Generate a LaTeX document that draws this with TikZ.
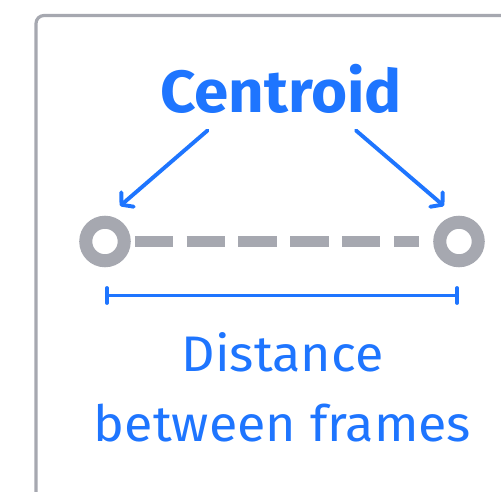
\documentclass[tikz,border=0pt]{standalone}
\usepackage{fontspec}
\setmainfont{Fira Sans}
\usetikzlibrary{arrows.meta}
\definecolor{accent}{RGB}{30,117,255}
\definecolor{frame}{RGB}{166,168,176}
\newcommand{\widen}[1]{\scalebox{1.04}[1]{#1}}
\tikzset{
  ring/.style={circle, draw=frame, fill=white, line width=13pt, inner sep=0pt, minimum size=38.5pt},
  link/.style={draw=frame, line width=11.8pt, dash pattern=on 38.4pt off 13.4pt},
  pointer/.style={draw=accent, line width=3.9pt, line cap=round,
    -{Straight Barb[length=8pt, width=19pt, line join=round, line cap=round]}},
  span/.style={draw=accent, line width=3.8pt, {Bar[width=15pt, line cap=round]}-{Bar[width=15pt, line cap=round]}},
  title/.style={text=accent, font=\fontsize{59.5}{60}\selectfont\bfseries, anchor=base, inner sep=0pt},
  caption/.style={text=accent, font=\fontsize{50}{52}\selectfont, anchor=base, inner sep=0pt}
}
\begin{document}
\begin{tikzpicture}[x=1pt, y=-1pt]
  \useasboundingbox (0,0) rectangle (501,492);
  \clip (0,0) rectangle (501,492);
  % panel outline, continuing past the right and bottom edges
  \draw[frame, line width=3.2pt, rounded corners=8pt] (36,540) -- (36,15.5) -- (540,15.5);

  \node[title] (cent) at (281,113) {\widen{Centroid}};

  \node[ring] (L) at (105,241.5) {};
  \node[ring] (R) at (459,241.5) {};
  \draw[link] ([xshift=4pt]L.east) -- ([xshift=-14.4pt]R.west);

  % arrows from the label to both ends
  \coordinate (la) at (207.5,130.5);
  \coordinate (lb) at (120,206);
  \coordinate (ra) at (356,130.5);
  \coordinate (rb) at (444,206);
  \draw[pointer] (la) -- (lb);
  \draw[pointer] (ra) -- (rb);

  % measured span
  \coordinate (sa) at (105,295.5);
  \coordinate (sb) at (459,295.5);
  \draw[span] (sa) -- (sb);

  \node[caption] (d1) at (282.5,371.7) {\widen{Distance}};
  \node[caption] (d2) at (282.5,441.7) {\widen{between frames}};
\end{tikzpicture}
\end{document}
